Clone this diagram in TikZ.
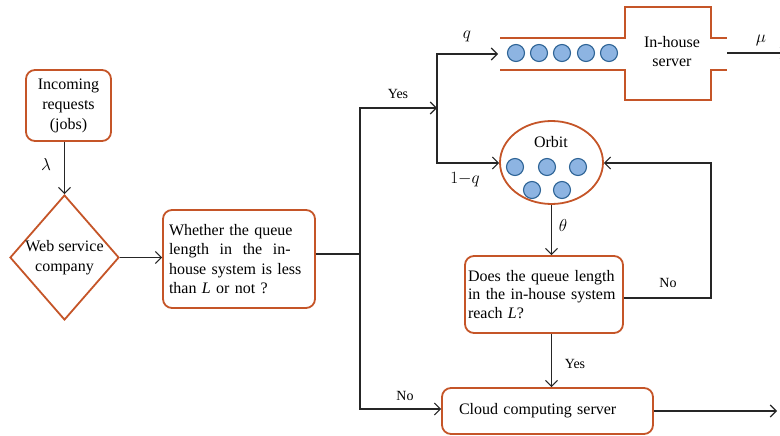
\documentclass[tikz,border=0pt]{standalone}
\usepackage{fontspec}
\setmainfont{Liberation Serif}
\usetikzlibrary{arrows.meta,shapes.geometric}
\definecolor{boxred}{RGB}{197,85,40}
\definecolor{dotfill}{RGB}{141,180,226}
\definecolor{dotline}{RGB}{46,100,150}
\begin{document}
\begin{tikzpicture}[x=1pt,y=-1pt,
  font=\fontsize{16}{20}\selectfont,
  flow/.style={draw=black!85, line width=1.1pt, -{Straight Barb[length=6pt,width=12pt,line width=1.1pt]}},
  plain/.style={draw=black!85, line width=1.1pt},
  rbox/.style={draw=boxred, line width=1.8pt, rounded corners=9pt},
  redline/.style={draw=boxred, line width=1.8pt},
  dot/.style={circle, fill=dotfill, draw=dotline, line width=1.1pt, minimum size=17pt, inner sep=0pt},
  lbl/.style={font=\fontsize{14}{16}\selectfont},
  greek/.style={font=\fontsize{18}{20}\selectfont}]
\useasboundingbox (0,0) rectangle (780,436);

% boxes
\node[rbox, minimum width=85pt, minimum height=71pt, align=center, inner sep=2pt] (inc) at (68.5,105.5) {Incoming\\requests\\(jobs)};
\node[redline, diamond, minimum width=109pt, minimum height=125pt, inner sep=0pt] (web) at (64.5,257.5) {};
\node[align=center] (webtxt) at (web.center) {Web service\\company};
\node[rbox, minimum width=152pt, minimum height=98pt, text width=140pt, inner xsep=6pt, align=left, font=\fontsize{16}{19.5}\selectfont] (whether) at (239,259)
  {\makebox[140pt][s]{Whether the queue}\\\makebox[140pt][s]{length\ \ in\ \ the\ \ in-}\\\makebox[140pt][s]{house system is less}\\than \textit{L} or not ?};
\node[rbox, minimum width=158pt, minimum height=77pt, text width=152pt, inner xsep=3pt, align=left, font=\fontsize{16}{18.5}\selectfont] (does) at (544,294.5)
  {Does the queue length\\in the in-house system\\reach \textit{L}?};
\node[rbox, minimum width=211pt, minimum height=46pt, text width=195pt, inner xsep=8pt, align=left] (cloud) at (547.5,411)
  {\hspace*{9pt}Cloud computing server};

% orbit
\node[redline, ellipse, minimum width=103pt, minimum height=83pt, inner sep=0pt] (orbit) at (551.5,162.5) {};
\node (orbittxt) at (551,142) {Orbit};
\node[dot] (o1) at (515,167) {};
\node[dot] (o2) at (547,167) {};
\node[dot] (o3) at (578,167) {};
\node[dot] (o4) at (532,190) {};
\node[dot] (o5) at (562,190) {};

% queue and in-house server
\draw[redline] (500,38) -- (625,38) -- (625,7) -- (711,7) -- (711,38) -- (727,38);
\draw[redline] (500,70) -- (625,70) -- (625,100) -- (711,100) -- (711,70) -- (727,70);
\node[align=center, font=\fontsize{16}{19}\selectfont] (srv) at (672,52) {In-house\\server};
\node[dot] (q1) at (516,53) {};
\node[dot] (q2) at (539,53) {};
\node[dot] (q3) at (562,53) {};
\node[dot] (q4) at (586,53) {};
\node[dot] (q5) at (609,53) {};

% coordinates
\coordinate (split) at (360,254);
\coordinate (yesc) at (360,108);
\coordinate (fork) at (437,108);
\coordinate (forkq) at (437,54);
\coordinate (forko) at (437,163);
\coordinate (qin) at (498,54);
\coordinate (noc) at (360,409);
\coordinate (fbk) at (711,298);
\coordinate (fbktop) at (711,163);
\coordinate (mu0) at (727,53);
\coordinate (muend) at (787,53);
\coordinate (cloudout) at (777,411);

% connectors
\draw[flow] (inc.south -| web.north) -- (web.north);
\draw[flow] (web.east) -- (whether.west |- web.east);
\draw[plain] (whether.east |- split) -- (split);
\draw[flow] (split) -- (yesc) -- (fork);
\draw[flow] (split) -- (noc) -- (cloud.west |- noc);
\draw[flow] (forko) -- (forkq) -- (qin);
\draw[flow] (forkq) -- (forko) -- (orbit.west |- forko);
\draw[flow] (orbit.south) -- (orbit.south |- does.north);
\draw[flow] (does.east |- fbk) -- (fbk) -- (fbktop) -- (orbit.east |- fbktop);
\draw[flow] (does.south -| orbit.south) -- (cloud.north -| orbit.south);
\draw[flow] (cloud.east) -- (cloudout);
\draw[flow] (mu0) -- (muend);

% labels
\node[greek] (lam) at (46,164) {$\lambda$};
\node[lbl] (yes1) at (398,94) {Yes};
\node[lbl] (no1) at (668,283) {No};
\node[lbl] (yes2) at (575,364) {Yes};
\node[lbl] (no2) at (405,396) {No};
\node[greek] (th) at (563,225) {$\theta$};
\node[greek] (ql) at (467,36) {$q$};
\node[greek] (oneq) at (465,180) {$1{-}q$};
\node[greek] (mu) at (761,40) {$\mu$};
\end{tikzpicture}
\end{document}
